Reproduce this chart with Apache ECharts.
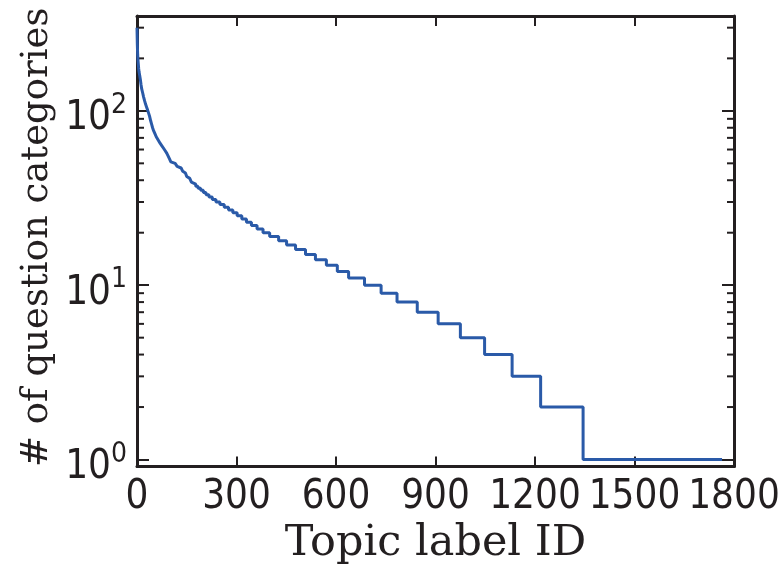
<!DOCTYPE html>
<html><head><meta charset="utf-8">
<script src="https://cdn.jsdelivr.net/npm/echarts@6/dist/echarts.min.js"></script>
<style>html,body{margin:0;padding:0;background:#fff}#c{width:784px;height:567px}</style>
</head><body><div id="c"></div>
<script>
// Topic label ID where each count level starts (sorted, descending counts)
const topicStart = [0,1,2,3,4,5,6,8,10,12,14,17,20,23,26,29,32,35,38,41,44,47,50,54,58,62,66,70,75,80,85,90,94,98,102,107,115,121,127,133,138,142,146,150,154,159,164,170,177,184,192,200,208,217,227,238,250,263,276,289,302,316,330,345,362,380,400,427,451,478,508,538,571,604,638,686,736,784,845,908,975,1048,1131,1217,1345];
const categoryCount = [300,240,210,195,185,175,168,160,152,142,134,127,120,114,109,105,101,97,93,88,84,80,77,74,71,69,67,65,63,61,59,57,55,53,51,50,49,48,47,46,45,44,43,42,41,40,39,38,37,36,35,34,33,32,31,30,29,28,27,26,25,24,23,22,21,20,19,18,17,16,15,14,13,12,11,10,9,8,7,6,5,4,3,2,1];
const lastTopicId = 1764;
const xTickValues = [0,300,600,900,1200,1500,1800];
const yMinorTicks = [2,3,4,5,6,7,8,9,20,30,40,50,60,70,80,90,200,300];

const INK = '#231f20';
const SANS = "'Liberation Sans Narrow','DejaVu Sans Condensed',sans-serif";
const SERIF = "'DejaVu Serif',serif";

const data = topicStart.map((x,i)=>[x, categoryCount[i]]);
data.push([lastTopicId, categoryCount[categoryCount.length-1]]);

const chart = echarts.init(document.getElementById('c'), null, {renderer:'canvas'});
const axisLine = {show:true, onZero:false, lineStyle:{color:INK, width:3}};
const tickStyle = {color:INK, width:2};
const xBase = {type:'value', min:xTickValues[0], max:xTickValues[xTickValues.length-1], interval:300,
  splitLine:{show:false}, axisLine:axisLine, axisTick:{inside:true, length:10, lineStyle:tickStyle}};
const yBase = {type:'log', logBase:10, min:0.912, max:350, splitLine:{show:false}, axisLine:axisLine,
  axisTick:{inside:true, length:12, lineStyle:tickStyle}};
function supLabel(v){
  const e = Math.log10(v); const r = Math.round(e);
  if (Math.abs(e-r) > 1e-6) return '';
  return '{b|10}{s|' + r + '}';
}
chart.setOption({
  animation:false,
  grid:{left:137, right:50, top:16, height:450.5, containLabel:false, outerBoundsMode:'none'},
  xAxis:[
    Object.assign({}, xBase, {position:'bottom',
      axisLabel:{fontFamily:SANS, fontSize:40, color:INK, margin:11, formatter:v=>String(v)},
      name:'Topic label ID', nameLocation:'middle', nameGap:56, nameMoveOverlap:false,
      nameTextStyle:{fontFamily:SERIF, fontSize:43, color:INK}}),
    Object.assign({}, xBase, {position:'top', axisLabel:{show:false}})
  ],
  yAxis:[
    Object.assign({}, yBase, {position:'left',
      axisLabel:{formatter:supLabel, margin:10, padding:[16,0,0,0],
        rich:{b:{fontFamily:SANS, fontSize:40, lineHeight:54, color:INK},
              s:{fontFamily:SANS, fontSize:28, lineHeight:28, verticalAlign:'top', color:INK}}},
      name:'# of question categories', nameLocation:'middle', nameGap:81, nameMoveOverlap:false,
      nameTextStyle:{fontFamily:SERIF, fontSize:37, color:INK, padding:[0,0,0,8]}}),
    Object.assign({}, yBase, {position:'right', axisLabel:{show:false}})
  ],
  series:[{type:'line', step:'end', data:data, symbol:'none', showSymbol:false,
    xAxisIndex:0, yAxisIndex:0, lineStyle:{color:'#2a5aa8', width:3}}]
});
const g = chart.getModel().getComponent('grid').coordinateSystem.getRect();
const els = [];
yMinorTicks.forEach(v=>{
  const y = chart.convertToPixel({yAxisIndex:0}, v);
  els.push({type:'line', shape:{x1:g.x, y1:y, x2:g.x+7, y2:y}, style:{stroke:INK, lineWidth:2}, silent:true});
  els.push({type:'line', shape:{x1:g.x+g.width, y1:y, x2:g.x+g.width-7, y2:y}, style:{stroke:INK, lineWidth:2}, silent:true});
});
chart.setOption({graphic:els});
</script>
</body></html>
